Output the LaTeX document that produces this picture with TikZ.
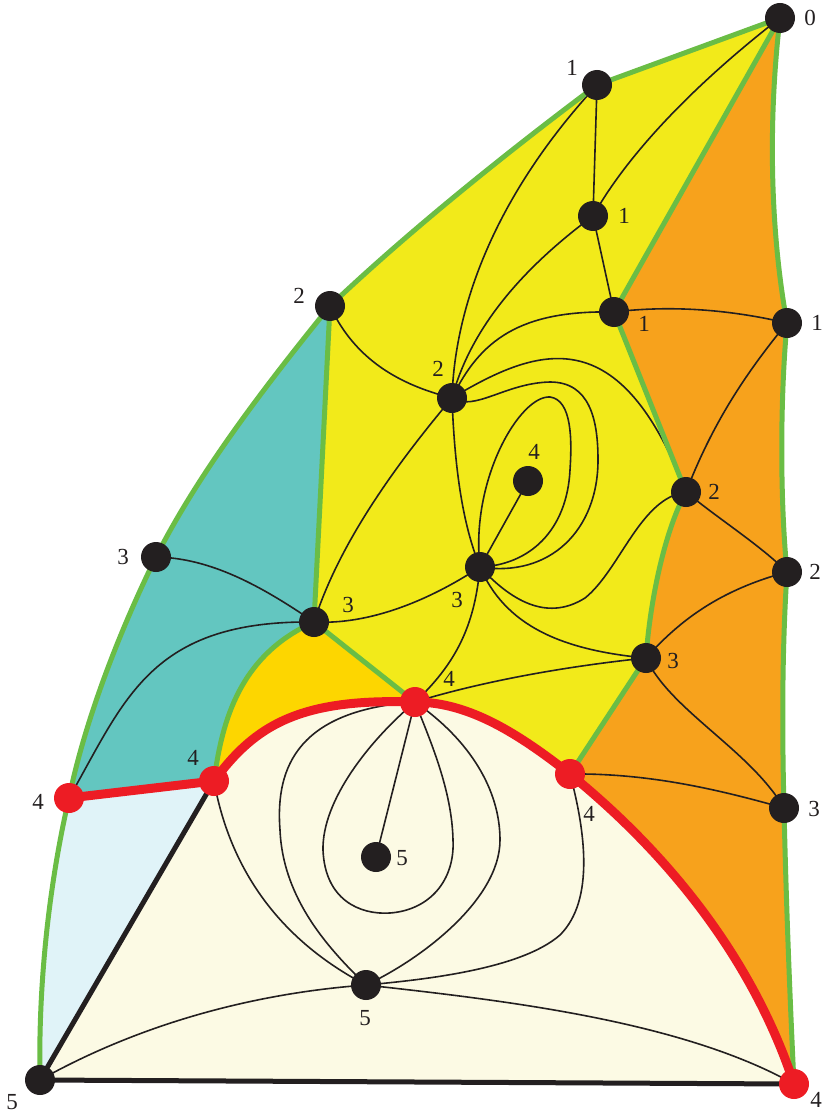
\documentclass[tikz,border=0pt]{standalone}
\usepackage{fontspec}
\setmainfont{Liberation Serif}
\definecolor{yel}{RGB}{242,234,26}
\definecolor{org}{RGB}{247,162,28}
\definecolor{teal1}{RGB}{99,198,192}
\definecolor{gold1}{RGB}{253,214,0}
\definecolor{lblue}{RGB}{224,243,248}
\definecolor{cream}{RGB}{252,250,228}
\definecolor{grn}{RGB}{106,189,69}
\definecolor{rd}{RGB}{237,28,36}
\definecolor{ink}{RGB}{35,31,32}
\begin{document}
\begin{tikzpicture}[x=1pt,y=-1pt,
  edge/.style={draw=ink, line width=1.6pt},
  gline/.style={draw=grn, line width=5pt, line join=round, line cap=round},
  rline/.style={draw=rd, line width=9pt, line join=round, line cap=round},
  bline/.style={draw=ink, line width=5pt, line cap=round},
  dot/.style={circle, fill=ink, minimum size=30pt, inner sep=0pt},
  rdot/.style={circle, fill=rd, minimum size=30pt, inner sep=0pt},
  lab/.style={font=\fontsize{23}{26}\selectfont, text=ink, inner sep=0pt}]
\useasboundingbox (0,0) rectangle (823,1115);
% positions
\coordinate (n0) at (780,18);
\coordinate (a1) at (597,85);
\coordinate (b1) at (593,216);
\coordinate (c1) at (614,312);
\coordinate (d1) at (787,323);
\coordinate (p2) at (330,306);
\coordinate (q2) at (452,398);
\coordinate (r2) at (686,492);
\coordinate (s2) at (787,572);
\coordinate (t4) at (528,481);
\coordinate (u3) at (156,557);
\coordinate (v3) at (314,622);
\coordinate (w3) at (480,567);
\coordinate (x3) at (646,658);
\coordinate (y3) at (784,808);
\coordinate (R4a) at (69,798);
\coordinate (R4b) at (214,781);
\coordinate (R4c) at (415,702);
\coordinate (R4d) at (570,774);
\coordinate (R4e) at (794,1084);
\coordinate (m5) at (376,857);
\coordinate (n5) at (366,985);
\coordinate (o5) at (40,1080);
% regions
\fill[yel] (p2) .. controls (410,230) and (510,150) .. (a1) -- (n0) -- (c1) -- (r2)
  .. controls (665,530) and (650,600) .. (x3) -- (R4d)
  .. controls (520,735) and (470,702) .. (R4c) -- (v3) -- cycle;
\fill[org] (n0) .. controls (768,120) and (770,230) .. (d1)
  .. controls (780,400) and (780,500) .. (s2)
  .. controls (782,650) and (782,730) .. (y3)
  .. controls (786,900) and (790,1000) .. (R4e)
  .. controls (740,920) and (620,815) .. (R4d) -- (x3)
  .. controls (650,600) and (665,530) .. (r2) -- (c1) -- cycle;
\fill[teal1] (p2) .. controls (270,380) and (200,470) .. (u3)
  .. controls (120,630) and (85,720) .. (R4a) -- (R4b)
  .. controls (222,720) and (240,655) .. (v3) -- cycle;
\fill[gold1] (v3) -- (R4c) .. controls (300,698) and (255,725) .. (R4b)
  .. controls (222,720) and (240,655) .. (v3) -- cycle;
\fill[lblue] (R4a) .. controls (50,880) and (38,980) .. (o5) -- (R4b) -- cycle;
\fill[cream] (R4b) .. controls (255,725) and (300,698) .. (R4c)
  .. controls (470,702) and (520,735) .. (R4d)
  .. controls (620,815) and (740,920) .. (R4e) -- (o5) -- cycle;
% thin edges
\draw[edge] (a1) -- (b1);
\draw[edge] (n0) .. controls (700,80) and (630,150) .. (b1);
\draw[edge] (b1) -- (c1);
\draw[edge] (a1) .. controls (500,190) and (455,300) .. (q2);
\draw[edge] (b1) .. controls (520,270) and (470,330) .. (q2);
\draw[edge] (c1) .. controls (520,310) and (480,340) .. (q2);
\draw[edge] (c1) .. controls (680,304) and (740,312) .. (d1);
\draw[edge] (d1) .. controls (740,380) and (710,430) .. (r2);
\draw[edge] (p2) .. controls (355,360) and (400,385) .. (q2);
\draw[edge] (q2) .. controls (540,345) and (620,320) .. (r2);
\draw[edge] (q2) .. controls (475,412) and (505,383) .. (550,382)
  .. controls (590,382) and (598,420) .. (598,460)
  .. controls (598,530) and (550,578) .. (w3);
\draw[edge] (w3) .. controls (470,480) and (520,395) .. (550,397)
  .. controls (572,400) and (572,440) .. (570,470)
  .. controls (567,530) and (530,565) .. (w3);
\draw[edge] (q2) .. controls (455,480) and (465,530) .. (w3);
\draw[edge] (q2) .. controls (400,460) and (340,540) .. (v3);
\draw[edge] (w3) -- (t4);
\draw[edge] (v3) .. controls (370,625) and (430,600) .. (w3);
\draw[edge] (w3) .. controls (515,605) and (550,620) .. (585,598)
  .. controls (620,570) and (640,498) .. (r2);
\draw[edge] (w3) .. controls (505,625) and (560,650) .. (x3);
\draw[edge] (w3) .. controls (475,620) and (460,660) .. (R4c);
\draw[edge] (R4c) .. controls (470,685) and (550,668) .. (x3);
\draw[edge] (r2) .. controls (720,520) and (760,545) .. (s2);
\draw[edge] (s2) .. controls (720,590) and (680,620) .. (x3);
\draw[edge] (x3) .. controls (670,710) and (750,750) .. (y3);
\draw[edge] (R4d) .. controls (650,773) and (720,790) .. (y3);
\draw[edge] (u3) .. controls (210,558) and (260,585) .. (v3);
\draw[edge] (v3) .. controls (150,620) and (125,700) .. (R4a);
\draw[edge] (R4b) .. controls (230,870) and (280,940) .. (n5);
\draw[edge] (R4c) .. controls (300,710) and (275,765) .. (280,830)
  .. controls (283,900) and (330,950) .. (n5);
\draw[edge] (R4c) .. controls (370,740) and (322,800) .. (323,850)
  .. controls (325,900) and (360,915) .. (390,913)
  .. controls (430,910) and (455,880) .. (453,840)
  .. controls (452,790) and (430,740) .. (R4c);
\draw[edge] (R4c) -- (m5);
\draw[edge] (R4c) .. controls (470,740) and (500,790) .. (500,840)
  .. controls (500,900) and (420,960) .. (n5);
\draw[edge] (R4d) .. controls (585,830) and (595,900) .. (560,935)
  .. controls (520,970) and (420,980) .. (n5);
\draw[edge] (o5) .. controls (120,1035) and (230,995) .. (n5);
\draw[edge] (n5) .. controls (500,1000) and (680,1020) .. (R4e);
% green boundaries
\draw[gline] (n0) -- (a1) .. controls (510,150) and (410,230) .. (p2)
  .. controls (270,380) and (200,470) .. (u3)
  .. controls (120,630) and (85,720) .. (R4a)
  .. controls (50,880) and (38,980) .. (o5);
\draw[gline] (n0) .. controls (768,120) and (770,230) .. (d1)
  .. controls (780,400) and (780,500) .. (s2)
  .. controls (782,650) and (782,730) .. (y3)
  .. controls (786,900) and (790,1000) .. (R4e);
\draw[gline] (n0) -- (c1) -- (r2) .. controls (665,530) and (650,600) .. (x3) -- (R4d);
\draw[gline] (p2) -- (v3) -- (R4c);
\draw[gline] (v3) .. controls (240,655) and (222,720) .. (R4b);
% black thick
\draw[bline] (R4b) -- (o5) -- (R4e);
% red
\draw[rline] (R4a) -- (R4b) .. controls (255,725) and (300,698) .. (R4c)
  .. controls (470,702) and (520,735) .. (R4d)
  .. controls (620,815) and (740,920) .. (R4e);
% dots
\foreach \p in {n0,a1,b1,c1,d1,p2,q2,r2,s2,t4,u3,v3,w3,x3,y3,m5,n5,o5}
  \node[dot] (D\p) at (\p) {};
\foreach \p in {R4a,R4b,R4c,R4d,R4e}
  \node[rdot] (D\p) at (\p) {};
% labels
\node[lab] (Ln0) at (810,18) {0};
\node[lab] (La1) at (572,68) {1};
\node[lab] (Lb1) at (624,216) {1};
\node[lab] (Lc1) at (644,324) {1};
\node[lab] (Ld1) at (817,323) {1};
\node[lab] (Lp2) at (299,296) {2};
\node[lab] (Lq2) at (438,369) {2};
\node[lab] (Lr2) at (714,492) {2};
\node[lab] (Ls2) at (815,572) {2};
\node[lab] (Lt4) at (534,452) {4};
\node[lab] (Lu3) at (123,557) {3};
\node[lab] (Lv3) at (348,605) {3};
\node[lab] (Lw3) at (457,600) {3};
\node[lab] (Lx3) at (673,661) {3};
\node[lab] (Ly3) at (814,809) {3};
\node[lab] (LR4a) at (38,802) {4};
\node[lab] (LR4b) at (193,758) {4};
\node[lab] (LR4c) at (449,679) {4};
\node[lab] (LR4d) at (589,814) {4};
\node[lab] (LR4e) at (816,1100) {4};
\node[lab] (Lm5) at (402,858) {5};
\node[lab] (Ln5) at (365,1018) {5};
\node[lab] (Lo5) at (12,1102) {5};
\end{tikzpicture}
\end{document}
